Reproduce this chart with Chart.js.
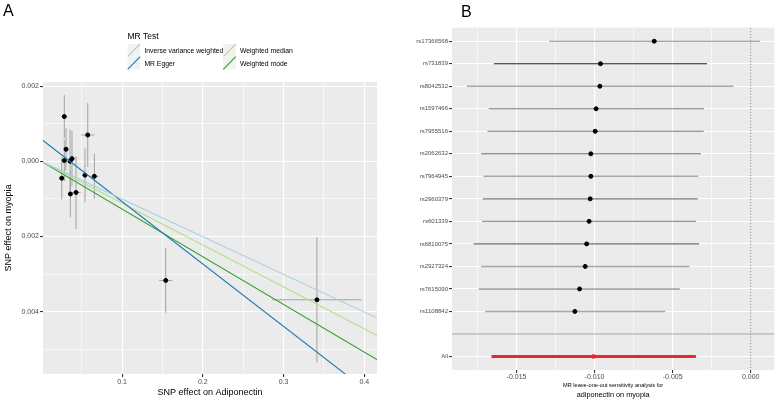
<!DOCTYPE html>
<html>
<head>
<meta charset="utf-8">
<script src="https://cdn.jsdelivr.net/npm/chart.js@4.4.1/dist/chart.umd.min.js"></script>
<style>
  body{margin:0;background:#fff;}
  #wrap{position:relative;width:780px;height:401px;}
  canvas{position:absolute;top:0;}
  #scatter{left:0;}
  #loo{left:390px;}
</style>
</head>
<body>
<div id="wrap">
  <canvas id="scatter" width="390" height="401"></canvas>
  <canvas id="loo" width="390" height="401"></canvas>
</div>
<script>
// ---- panel A : SNP effects, adiponectin -> myopia ----
const snpBetaX = [0.0285,0.0575,0.0306,0.0285,0.0356,0.0380,0.0253,0.0541,0.0657,0.0360,0.0430,0.1541,0.3413];
const snpSeX   = [0.0030,0.0083,0.0025,0.0025,0.0030,0.0040,0.0025,0.0037,0.0054,0.0030,0.0056,0.0082,0.0554];
const snpBetaY = [0.00119,0.00070,0.00032,0.00002,0.00000,0.00007,-0.00045,-0.00037,-0.00040,-0.00087,-0.00083,-0.00317,-0.003685];
const snpSeY   = [0.00057,0.00085,0.00056,0.00055,0.00085,0.00074,0.00056,0.00072,0.00060,0.00062,0.00097,0.00086,0.00167];

const mrMethods    = ["Inverse variance weighted","MR Egger","Weighted median","Weighted mode"];
const mrSlopes     = [-0.01003,-0.0166,-0.01114,-0.0127];
const mrIntercepts = [0,0.000587,0,0];
const mrColors     = ["#a6cee3","#1f78b4","#b2df8a","#33a02c"];

const scatterXTicks  = [0.05,0.1,0.15,0.2,0.25,0.3,0.35,0.4];
const scatterXLabels = ["","0.1","","0.2","","0.3","","0.4"];
const scatterYTicks  = [-0.005,-0.004,-0.003,-0.002,-0.001,0,0.001,0.002];
const scatterYLabels = ["","0.004","","0.002","","0.000","","0.002"];

// ---- panel B : leave-one-out ----
const looSnps  = ["rs17366568","rs731839","rs8042532","rs1597466","rs7955516","rs2062632","rs7964945","rs2960379","rs601339","rs6810075","rs2927324","rs7615090","rs1108842","","All"];
const looBeta  = [-0.00618,-0.00962,-0.00966,-0.0099,-0.00996,-0.01024,-0.01024,-0.01028,-0.01035,-0.01051,-0.0106,-0.01096,-0.01126,null,-0.01006];
const looLower = [-0.01291,-0.01644,-0.01817,-0.01678,-0.01686,-0.01727,-0.01712,-0.01716,-0.0172,-0.01774,-0.01727,-0.01742,-0.01701,null,-0.0166];
const looUpper = [0.0006,-0.0028,-0.00111,-0.00299,-0.00301,-0.00319,-0.00336,-0.0034,-0.00351,-0.00331,-0.00391,-0.00453,-0.00547,null,-0.00351];
const looXTicks  = [-0.0175,-0.015,-0.0125,-0.01,-0.0075,-0.005,-0.0025,0];
const looXLabels = ["","-0.015","","-0.010","","-0.005","","0.000"];

const FONT = "'Liberation Sans', Arial, sans-serif";
Chart.defaults.font.family = FONT;
Chart.defaults.animation = false;

const rowShade = ["#8c8c8c","#222222","#a8a8a8","#7a7a7a","#7a7a7a","#6e6e6e","#a8a8a8","#7a7a7a","#969696","#6e6e6e","#a8a8a8","#6e6e6e","#a8a8a8"];

const panelBg = {
  id: "panelBg",
  beforeDraw(chart){
    const {ctx, chartArea:a} = chart;
    ctx.save();
    ctx.fillStyle = "#ebebeb";
    ctx.fillRect(a.left, a.top, a.right-a.left, a.bottom-a.top);
    ctx.restore();
  }
};

const gridOpts = (labels)=>({
  color: "#ffffff",
  lineWidth: (c)=> labels[c.index] === "" ? 0.6 : 1.1,
  tickLength: 3,
  tickColor: (c)=> labels[c.index] === "" ? "rgba(0,0,0,0)" : "#333333"
});

// ---------- A ----------
const vBars = [], hBars = [];
snpBetaX.forEach((x,i)=>{
  vBars.push({x:x, y:snpBetaY[i]-snpSeY[i]}, {x:x, y:snpBetaY[i]+snpSeY[i]}, {x:x, y:null});
  hBars.push({x:x-snpSeX[i], y:snpBetaY[i]}, {x:x+snpSeX[i], y:snpBetaY[i]}, {x:null, y:null});
});

const scatterLegend = {
  id: "scatterLegend",
  afterDraw(chart){
    const ctx = chart.ctx;
    ctx.save();
    ctx.fillStyle = "#000";
    ctx.textBaseline = "alphabetic";
    ctx.font = "16px " + FONT;
    ctx.fillText("A", 3, 16);
    ctx.textBaseline = "middle";
    ctx.font = "8.5px " + FONT;
    ctx.fillText("MR Test", 127.5, 37);
    ctx.font = "6.8px " + FONT;
    const cols = [127.7, 223.3], rows = [44, 56.7], kw = 12.4, kh = 12.6;
    mrMethods.forEach((m,i)=>{
      const x = cols[Math.floor(i/2)], y = rows[i%2];
      ctx.fillStyle = "#f2f2f2";
      ctx.fillRect(x, y, kw, kh);
      ctx.strokeStyle = mrColors[i];
      ctx.lineWidth = 1.1;
      ctx.beginPath();
      ctx.moveTo(x, y+kh);
      ctx.lineTo(x+kw, y);
      ctx.stroke();
      ctx.fillStyle = "#000";
      ctx.fillText(m, x+kw+4.3, y+kh/2+1);
    });
    ctx.restore();
  }
};

new Chart(document.getElementById("scatter"),{
  type: "scatter",
  data: {
    datasets: [
      {data: vBars, showLine: true, spanGaps: false, borderColor: "#a3a3a3", borderWidth: 1, pointRadius: 0, order: 3, clip: 0},
      {data: hBars, showLine: true, spanGaps: false, borderColor: "#a3a3a3", borderWidth: 1, pointRadius: 0, order: 3, clip: 0},
      {data: snpBetaX.map((x,i)=>({x:x, y:snpBetaY[i]})), backgroundColor: "#000", borderColor: "#000", pointRadius: 2, order: 2},
      ...mrMethods.map((m,i)=>({
        label: m,
        data: [0, 0.45].map(x=>({x:x, y:mrIntercepts[i]+mrSlopes[i]*x})),
        showLine: true,
        borderColor: mrColors[i],
        borderWidth: 1.1,
        pointRadius: 0,
        order: 1,
        clip: 0
      }))
    ]
  },
  options: {
    responsive: false,
    layout: {padding: {top: 82, right: 13, left: 0, bottom: 0}},
    plugins: {legend: {display: false}, tooltip: {enabled: false}},
    scales: {
      x: {
        type: "linear",
        min: 0.0021,
        max: 0.4157,
        afterBuildTicks: (s)=>{ s.ticks = scatterXTicks.map(v=>({value:v})); },
        afterFit: (s)=>{ s.height = 27; },
        ticks: {callback: (v,i)=>scatterXLabels[i], autoSkip: false, maxRotation: 0, padding: 1, color: "#4d4d4d", font: {size: 7}},
        grid: gridOpts(scatterXLabels),
        border: {display: false},
        title: {display: true, text: "SNP effect on Adiponectin", color: "#000", font: {size: 9}, padding: {top: 0, bottom: 3}}
      },
      y: {
        type: "linear",
        min: -0.00566,
        max: 0.00211,
        afterBuildTicks: (s)=>{ s.ticks = scatterYTicks.map(v=>({value:v})); },
        afterFit: (s)=>{ s.width = 43; },
        ticks: {callback: (v,i)=>scatterYLabels[i], autoSkip: false, padding: 1, color: "#4d4d4d", font: {size: 7}},
        grid: gridOpts(scatterYLabels),
        border: {display: false},
        title: {display: true, text: "SNP effect on myopia", color: "#000", font: {size: 9}, padding: {top: 3.6, bottom: 0}}
      }
    }
  },
  plugins: [panelBg, scatterLegend]
});

// ---------- B ----------
const looRows = looSnps.map((s,i)=>i+1);
const looTickRows = looRows.filter((r,i)=>looSnps[i] !== "");
const blankRow = looRows[looSnps.indexOf("")];
const allIdx = looSnps.indexOf("All");

const looTitle = {
  id: "looTitle",
  afterDraw(chart){
    const {ctx, chartArea:a} = chart;
    const cx = (a.left+a.right)/2;
    ctx.save();
    ctx.fillStyle = "#000";
    ctx.textBaseline = "alphabetic";
    ctx.font = "16px " + FONT;
    ctx.fillText("B", 71, 16.5);
    ctx.textAlign = "center";
    ctx.textBaseline = "middle";
    ctx.font = "5.6px " + FONT;
    ctx.fillText("MR leave-one-out sensitivity analysis for", cx, 385);
    ctx.font = "7.3px " + FONT;
    ctx.fillText("adiponectin on myopia", cx, 394.5);
    ctx.restore();
  }
};

const ciSets = looRows.filter((r,i)=>looBeta[i] !== null && i !== allIdx).map((r)=>{
  const i = r-1;
  return {
    data: [{x:looLower[i], y:r}, {x:looUpper[i], y:r}],
    showLine: true,
    borderColor: rowShade[i],
    borderWidth: rowShade[i] === "#a8a8a8" ? 1.5 : 1.1,
    pointRadius: 0,
    order: 3
  };
});

new Chart(document.getElementById("loo"),{
  type: "scatter",
  data: {
    datasets: [
      {data: [{x:0, y:0}, {x:0, y:16}], showLine: true, borderColor: "#8a8a8a", borderWidth: 1, borderDash: [1.5,1.5], pointRadius: 0, order: 5, clip: 0},
      {data: [{x:-0.03, y:blankRow}, {x:0.01, y:blankRow}], showLine: true, borderColor: "#a6a6a6", borderWidth: 1, pointRadius: 0, order: 4, clip: 0},
      ...ciSets,
      {data: [{x:looLower[allIdx], y:looRows[allIdx]}, {x:looUpper[allIdx], y:looRows[allIdx]}], showLine: true, borderColor: "#e8282b", borderWidth: 3, pointRadius: 0, order: 2},
      {data: looRows.filter((r,i)=>looBeta[i] !== null && i !== allIdx).map(r=>({x:looBeta[r-1], y:r})), backgroundColor: "#000", borderColor: "#000", pointRadius: 2, order: 1},
      {data: [{x:looBeta[allIdx], y:looRows[allIdx]}], pointStyle: "rect", backgroundColor: "#e8282b", borderColor: "#e8282b", pointRadius: 2.2, order: 1}
    ]
  },
  options: {
    responsive: false,
    layout: {padding: {top: 27.7, right: 5.7, left: 0, bottom: 0}},
    plugins: {legend: {display: false}, tooltip: {enabled: false}},
    scales: {
      x: {
        type: "linear",
        min: -0.01913,
        max: 0.00151,
        afterBuildTicks: (s)=>{ s.ticks = looXTicks.map(v=>({value:v})); },
        afterFit: (s)=>{ s.height = 31; },
        ticks: {callback: (v,i)=>looXLabels[i], autoSkip: false, maxRotation: 0, padding: 0, color: "#4d4d4d", font: {size: 7}},
        grid: gridOpts(looXLabels),
        border: {display: false}
      },
      y: {
        type: "linear",
        reverse: true,
        min: 0.4,
        max: 15.6,
        afterBuildTicks: (s)=>{ s.ticks = looTickRows.map(v=>({value:v})); },
        afterFit: (s)=>{ s.width = 62; },
        ticks: {callback: (v)=>looSnps[v-1], autoSkip: false, padding: 1, color: "#4d4d4d", font: {size: 6}},
        grid: {color: "#ffffff", lineWidth: 1.1, tickLength: 3, tickColor: "#333333"},
        border: {display: false}
      }
    }
  },
  plugins: [panelBg, looTitle]
});
</script>
</body>
</html>
